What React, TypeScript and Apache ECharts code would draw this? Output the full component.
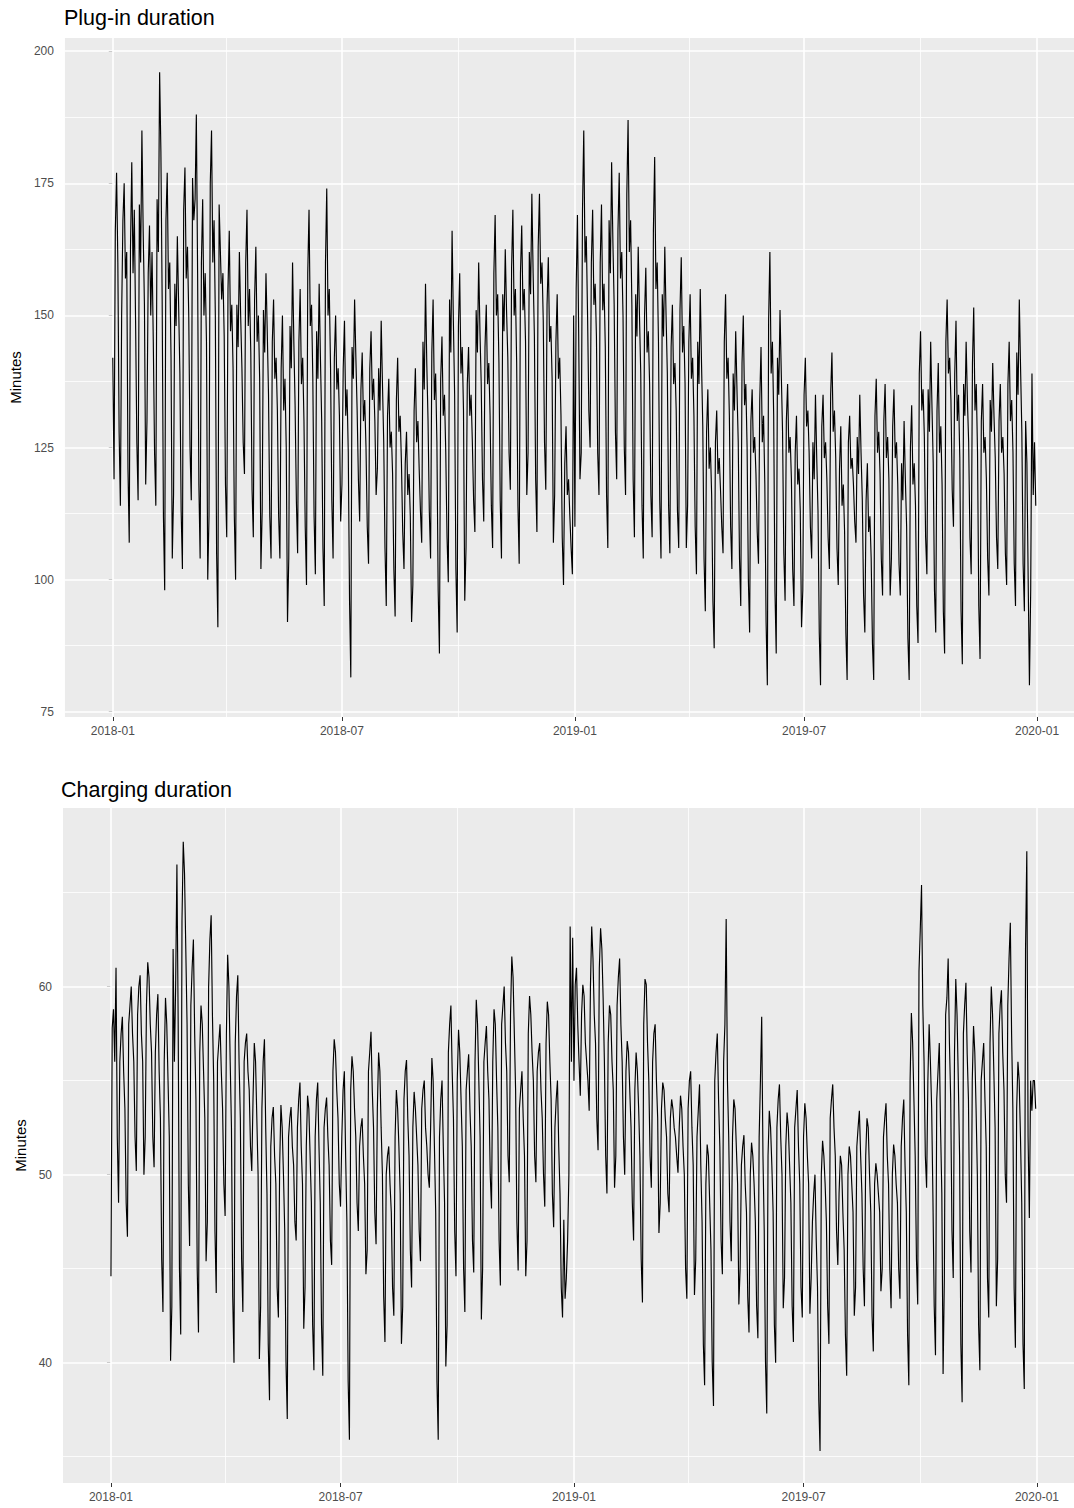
import React, { useEffect, useRef } from "react";
import * as echarts from "echarts";

// Daily values, one row per week (Mon..Sun), starting Mon 2018-01-01
const plugIn2018 = [
  142,119,166,177,160,128,114,
  150,168,175,157,162,121,107,
  163,179,158,170,149,126,115,
  171,160,185,166,152,118,130,
  158,167,150,162,145,124,114,
  172,162,196,181,153,112,98,
  168,177,155,160,142,104,116,
  156,148,165,152,139,113,102,
  170,178,157,163,150,125,115,
  176,168,172,188,158,118,104,
  160,172,150,158,145,100,112,
  175,185,160,168,150,105,91,
  171,162,153,158,146,118,108,
  155,166,147,152,140,112,100,
  152,144,162,150,140,126,120,
  160,170,148,155,143,117,108,
  153,163,145,150,138,102,113,
  151,143,158,147,135,112,104,
  145,153,138,142,132,112,104,
  140,150,132,138,125,92,104,
  148,140,160,145,133,115,105,
  145,155,137,142,130,110,99,
  158,170,148,152,138,112,101,
  147,138,156,142,130,106,95,
  160,174,150,155,140,115,104,
  142,150,136,140,131,111,118,
  140,149,131,136,124,96,81.5,
  144,138,153,142,132,119,111,
  136,143,130,134,125,110,103,
  140,147,134,138,130,116,121,
  140,132,149,137,126,106,95,
  131,138,125,128,120,102,93,
  134,142,128,131,122,109,102,
  122,128,116,120,112,92,99,
  132,140,126,130,121,113,107,
  145,136,156,141,130,113,104,
  143,153,134,139,126,98,86,
  138,146,131,135,124,108,99.5,
  153,143,166,149,135,102,90,
  148,158,139,144,132,96,106,
  137,144,131,135,126,115,109,
  151,143,160,147,137,119,111,
  144,152,137,141,131,114,106,
  158,169,150,154,141,115,104,
  154,147,162.5,151,142,124,117,
  159,170,150,155,141,114,103,
  158,167,151,155,145,116,124,
  162,154,173,158,146,119,109,
  163,173,156,160,149,126,117,
  152,161,145,148,138,107,116,
  145,154,138,142,131,108,99,
  122,129,116,119,112,106,101,
  150,
];

const plugIn2019 = [
  110,155,169,146,119,124,
  170,185,160,165,150,132,125,
  160,170,152,156,146,124,116,
  160,171,151,156,144,116,106,
  168,158,179,164,152,128,119,
  166,177,157,162,150,125,116,
  173,187,162,168,152,119,108,
  154,146,163,150,139,114,104,
  150,159,143,147,137,116,108,
  166,180,155,160,145,115,104,
  154,146,163,150,139,114,105,
  144,152,137,141,132,113,106,
  151,161,143,148,137,106,114,
  145,154,138,142,131,110,101,
  145,137,155,141,129,104,94,
  128,136,121,125,116,96,87,
  126,132,120,123,117,110,105,
  145,154,138,142,131,110,102,
  139,132,147,136,126,104,95,
  141,150,133,137,125,100,90,
  130,136,124,127,120,109,103,
  134,144,126,131,118,92,80,
  149,162,139,145,131,98,86,
  142,135,151,139,128,105,96,
  130,137,124,127,119,102,95,
  124,131,118,121,113,91,98,
  135,142,129,132,124,110,104,
  126,119,135,123,113,90,80,
  129,135,123,126,119,108,102,
  135,143,128,132,123,106,99,
  121,129,114,118,109,90,81,
  126,131,121,123,118,111,107,
  127,120,135,124,115,97,90,
  115,122,109,112,104,88,81,
  131,138,124,128,120,104,97,
  130,137,123,127,119,97,104,
  129,136,123,126,118,103,97,
  122,115,130,119,110,89,81,
  125,133,118,122,114,95,88,
  139,147,132,136,127,108,101,
  136,128,145,133,122,98,90,
  132,141,124,129,118,94,86,
  145,153,139,142,134,117,110,
  139,149,130,135,123,94,84,
  137,131,145,134,126,108,101,
  141,151.5,132,137,124,95,85,
  130,137,124,127,119,104,97,
  134,128,141,131,123,108,102,
  130,137,124,127,120,105,99,
  137,145,130,134,124,103,95,
  143,135,153,140,128,103,94,
  130,122,100,80,98,139,116,
  126,114,
];

const charging2018 = [
  44.6,57.8,58.8,56,61,52,48.5,
  56,57.5,58.4,55.5,53.5,48.5,46.7,
  58,59,60,57.5,56,52,50.2,
  58.5,60,60.6,57.5,56,50,52,
  59,61.3,60.5,58,56.5,52,50.4,
  56.5,58.5,59.6,55.5,53,45.5,42.7,
  56,59.4,58,55,52,40.1,43,
  62,56,60,66.5,58,45,41.5,
  63.5,67.7,66,62,58,49.5,46.2,
  59,61,62.5,57.5,54,45,41.6,
  56.5,59,58,55.5,53,45.4,47.5,
  60,62.5,63.8,58.5,55,47,43.7,
  56,57,58,55.5,53.5,49.5,47.8,
  57.5,61.7,60,56,52.5,43.5,40,
  57,59.5,60.6,56,53,45.5,42.7,
  56,57,57.5,55.5,54.5,51.5,50.2,
  54,57,56,53,50,40.2,43,
  53.5,56,57.2,52.5,49,41,38,
  51.5,53,53.6,51,49.5,44,42.4,
  50.5,53.7,52.5,50,47,40,37,
  52,53,53.6,51.5,50.5,47.5,46.5,
  52.5,54,54.9,51.5,49.5,41.8,44,
  51.5,54.2,53.5,51,48.5,42,39.6,
  52,54,54.9,51.5,48.5,42,39.3,
  52.5,53.5,54.1,52,50.5,46.5,45.2,
  55.5,57.2,56.5,54.5,53,49.5,48.3,
  52,54.5,55.5,51,47.5,39,35.9,
  54.5,56.3,55.5,53.5,52,48.5,47,
  51.5,52.5,53,51,49.5,44.7,46,
  55.5,56.5,57.6,54.5,52.5,48,46.3,
  53.5,56.5,55.5,52.5,50,43.5,41.1,
  50,51,51.5,49.5,48,44,42.5,
  52,54.5,53.5,51.5,49,41,43,
  54,55.5,56.1,53,51,46,44,
  52.5,54.4,53.5,52,50.5,47,45.4,
  53.5,54.5,55,52.5,51.5,50,49.3,
  52.5,56.2,55,51.5,48,39,35.9,
  52,54,55,51.5,48.5,39.8,42,
  56.5,58,59,55.5,53,47,44.6,
  55,57.7,56.5,54,51.5,45,42.7,
  54.5,55.5,56.4,53.5,51.5,46.5,44.8,
  56,59.3,58,55,52,42.3,45,
  56,57,57.9,55.5,54,50,48.2,
  56,58.8,58,55,52.5,46.5,44.1,
  58,59,60,57,55.5,51,49.6,
  58.5,61.6,60.5,57.5,54.5,47.5,44.9,
  53.5,54.5,55.5,53,51,44.6,46.5,
  57.5,59.5,58.5,56.5,55,51,49.6,
  55.5,56.5,57,54.5,53,50,48.3,
  57,59.2,58.5,56,54,49,47.2,
  52.5,54,55,51.5,49,44,42.4,
  47.6,43.4,44.5,46.5,50,63.2,56,
  62.6,
];

const charging2019 = [
  55,60.1,61,58,56,54.2,
  58.5,60.1,59.5,57,56,55,53.4,
  60,63.2,61.5,58.5,57,53,51.3,
  61,63.1,62,59.4,56,51,49,
  57,59,58.5,56,54.5,49.3,51,
  59,60.5,61.5,58,56,52,50,
  55.5,57.1,56.5,54.5,52.5,48.5,46.5,
  54.5,56.5,55.5,53.5,51,45.5,43.2,
  58,60.4,60.1,57,55,51,49.3,
  56,57.5,58,55,53,46.9,48.5,
  53.5,54.9,54.5,53,52,49,48,
  53,54,53.5,52.5,52,51,50.1,
  52.5,54.2,53.5,51.5,50,45,43.4,
  53.5,55,55.5,52.5,50.5,43.6,45.5,
  52,53.4,54.8,50.5,47.5,41,38.8,
  49.5,51.6,51,48.5,46,40,37.7,
  55,56.5,57.5,54,51.5,46.5,44.7,
  56,58,63.6,55,52,47.5,45.4,
  52,54,53.5,51.5,49.5,43.1,45,
  50.5,51.5,52.1,49.5,48,43.5,41.6,
  50,51.7,51,49.5,47.5,43,41.3,
  52,55,58.4,51,47,40,37.3,
  51,53.4,52.5,50.5,48,42,40,
  52.5,54,54.8,52,50,42.9,44.5,
  51.5,53.3,52.5,50.5,48.5,43,41.1,
  52.5,53.5,54.5,51.5,49.5,44,42.4,
  52,53.8,53,51,49.5,42.6,44.5,
  47.5,49,50,46.5,44,38,35.3,
  50,51.8,51,49.5,47.5,43,41,
  53,54,54.8,52.5,51,47,45.2,
  49,51,50.5,48,46,41.5,39.3,
  50,51.5,51,49.5,48,42.5,44,
  51.5,52.5,53.4,51,49,45,43,
  51,53,52.5,50,48,42.5,40.6,
  49.5,50.6,50,49,48,43.8,45,
  52,53,53.8,51,49.5,45,42.9,
  50,51.6,51,49.5,48.5,45,43.4,
  51.5,53,54,50.5,48,41.5,38.8,
  55,58.6,57,54,51,45.5,43.1,
  60.8,63,65.4,59,56,51,49.3,
  55,58,56,53.5,48.7,43,40.4,
  54,55.5,57,52.5,49,39.4,44.5,
  58.5,59.4,61.5,57,54,47,44.5,
  56.5,60.4,58.5,55,51,41,37.9,
  57.5,59,60.2,56.4,54,47,44.8,
  55,57.9,56.5,53.5,50,42,39.6,
  55,56,57,54,51.5,44.5,42.4,
  57,60,58.5,55.5,52.5,43,45.5,
  57.5,59,59.8,56.5,54.5,50,48.5,
  59,61.5,63.4,57.5,53.5,44,40.8,
  53.5,56,55,52,48.5,41,38.6,
  62,67.2,52,47.7,55,53.4,55,
  55,53.5,
];

const titles = ["Plug-in duration", "Charging duration"];
const yAxisTitle = "Minutes";
const xTickDates = ["2018-01-01", "2018-07-01", "2019-01-01", "2019-07-01", "2020-01-01"];
const xTickLabels = ["2018-01", "2018-07", "2019-01", "2019-07", "2020-01"];
const xMinorDates = ["2018-04-01", "2018-10-01", "2019-04-01", "2019-10-01"];
const plugTicks = [75, 100, 125, 150, 175, 200];
const plugMinor = [87.5, 112.5, 137.5, 162.5, 187.5];
const chargeTicks = [40, 50, 60];
const chargeMinor = [35, 45, 55, 65];

const DAY = 86400000;
const START = Date.UTC(2018, 0, 1);
// x positions are days since 2018-01-01
const toDay = (s: string) => {
  const [y, m, d] = s.split("-").map(Number);
  return Math.round((Date.UTC(y, m - 1, d) - START) / DAY);
};

const FONT = "'Liberation Sans', Arial, Helvetica, sans-serif";

export default function App() {
  const ref = useRef<HTMLDivElement>(null);
  useEffect(() => {
    if (!ref.current) return;
    const chart = echarts.init(ref.current, undefined, { renderer: "svg" });

    const plug = plugIn2018.concat(plugIn2019).map((v, i) => [i, v]);
    const charge = charging2018.concat(charging2019).map((v, i) => [i, v]);

    const xTicks = xTickDates.map(toDay);
    const xMinor = xMinorDates.map(toDay);
    const xMin = -37.8;
    const xMax = 759.2;

    const fmtX = (val: number) => {
      const i = xTicks.findIndex((t) => Math.abs(t - val) < 0.5);
      return i >= 0 ? xTickLabels[i] : "";
    };

    const mkX = (gi: number) => ({
      type: "value",
      gridIndex: gi,
      min: xMin,
      max: xMax,
      axisLine: { show: false },
      splitLine: { show: false },
      axisTick: { show: true, length: 4, customValues: xTicks, lineStyle: { color: "#333333", width: 1 } },
      axisLabel: {
        customValues: xTicks,
        formatter: fmtX,
        color: "#4D4D4D",
        fontSize: 12,
        fontFamily: FONT,
        margin: 8,
      },
    });

    const mkY = (gi: number, min: number, max: number, ticks: number[]) => ({
      type: "value",
      gridIndex: gi,
      min,
      max,
      name: yAxisTitle,
      nameLocation: "middle",
      nameGap: 31,
      nameTextStyle: { color: "#000", fontSize: 15, fontFamily: FONT },
      axisLine: { show: false },
      splitLine: { show: false },
      axisTick: { show: true, length: 4, customValues: ticks, lineStyle: { color: "#333333", width: 1 } },
      axisLabel: {
        customValues: ticks,
        color: "#4D4D4D",
        fontSize: 12,
        fontFamily: FONT,
        margin: 11,
      },
    });

    const gridSeries = (gi: number, yVals: number[], xVals: number[], width: number) => ({
      type: "line",
      xAxisIndex: gi,
      yAxisIndex: gi,
      data: [],
      silent: true,
      z: 1,
      markLine: {
        silent: true,
        z: 1,
        symbol: ["none", "none"],
        label: { show: false },
        emphasis: { disabled: true },
        lineStyle: { color: "#FFFFFF", width, type: "solid", opacity: 1 },
        data: [
          ...yVals.map((v) => ({ yAxis: v })),
          ...xVals.map((v) => ({ xAxis: v })),
        ],
      },
    });

    const dataSeries = (gi: number, data: number[][]) => ({
      type: "line",
      xAxisIndex: gi,
      yAxisIndex: gi,
      data,
      showSymbol: false,
      symbol: "none",
      silent: true,
      z: 10,
      lineStyle: { color: "#000000", width: 1.15 },
    });

    chart.setOption({
      animation: false,
      title: [
        {
          text: titles[0],
          left: 64,
          top: 7,
          padding: 0,
          textStyle: { color: "#000", fontSize: 21.5, fontWeight: "normal", fontFamily: FONT },
        },
        {
          text: titles[1],
          left: 61,
          top: 779,
          padding: 0,
          textStyle: { color: "#000", fontSize: 21.5, fontWeight: "normal", fontFamily: FONT },
        },
      ],
      grid: [
        { left: 63, top: 38, width: 1011, height: 679, show: true, backgroundColor: "#EBEBEB", borderWidth: 0, containLabel: false },
        { left: 63, top: 808, width: 1011, height: 675, show: true, backgroundColor: "#EBEBEB", borderWidth: 0, containLabel: false },
      ],
      xAxis: [mkX(0), mkX(1)],
      yAxis: [mkY(0, 74, 202.5, plugTicks), mkY(1, 33.6, 69.5, chargeTicks)],
      series: [
        gridSeries(0, plugMinor, xMinor, 0.8),
        gridSeries(0, plugTicks, xTicks, 1.6),
        gridSeries(1, chargeMinor, xMinor, 0.8),
        gridSeries(1, chargeTicks, xTicks, 1.6),
        dataSeries(0, plug),
        dataSeries(1, charge),
      ],
    });

    return () => chart.dispose();
  }, []);

  return (
    <div
      ref={ref}
      style={{ position: "absolute", left: 0, top: 0, width: 1074, height: 1508, background: "#FFFFFF" }}
    />
  );
}
